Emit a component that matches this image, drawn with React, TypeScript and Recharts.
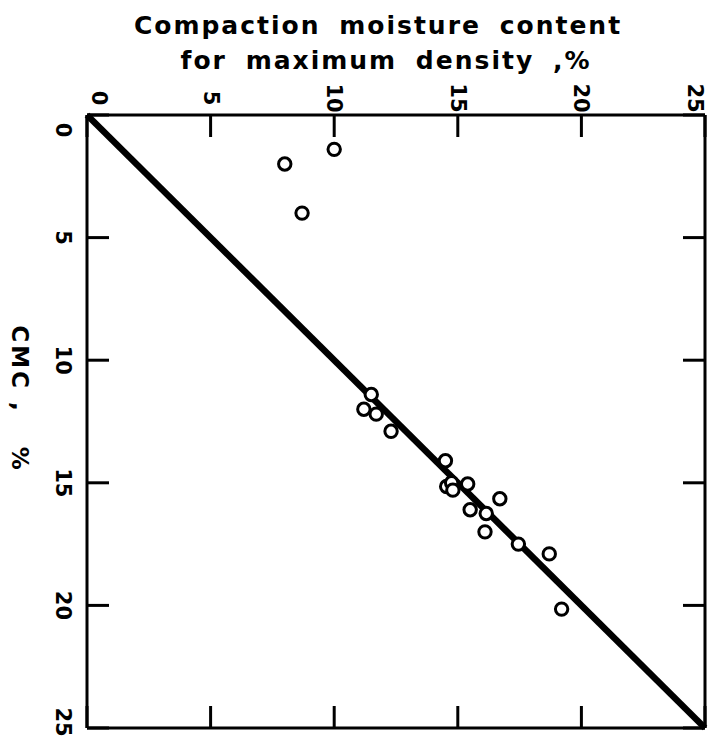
import { ScatterChart, Scatter, XAxis, YAxis } from "recharts";

// compaction moisture content for max density (%) vs CMC (%)
const moistureMaxDensity = [10.0, 8.0, 8.7, 11.5, 11.2, 11.7, 12.3, 14.5, 14.55, 14.75, 14.8, 15.4, 16.7, 15.5, 16.15, 16.1, 17.45, 18.7, 19.2];
const cmcValues = [1.4, 2.0, 4.0, 11.4, 12.0, 12.2, 12.9, 14.1, 15.15, 15.0, 15.3, 15.05, 15.65, 16.1, 16.25, 17.0, 17.5, 17.9, 20.15];
const lineX = [0, 25];
const lineY = [0, 25];
const axisTicks = [0, 5, 10, 15, 20, 25];

const points = moistureMaxDensity.map((x, i) => ({ x, y: cmcValues[i] }));
const fitLine = lineX.map((x, i) => ({ x, y: lineY[i] }));

const FONT = "'DejaVu Sans', sans-serif";

const TopTick = (props: any) => {
  const { x, y, payload } = props;
  let dx = 0;
  if (payload.value === 0) dx = 12;
  if (payload.value === 25) dx = -10;
  const cx = x + dx;
  return (
    <text
      x={cx}
      y={y}
      transform={`rotate(90, ${cx}, ${y})`}
      textAnchor="middle"
      dominantBaseline="central"
      fontFamily={FONT}
      fontWeight="bold"
      fontSize={21}
      fill="#000"
    >
      {payload.value}
    </text>
  );
};

const LeftTick = (props: any) => {
  const { x, y, payload } = props;
  let dy = 0;
  if (payload.value === 0) dy = 15;
  if (payload.value === 25) dy = -6;
  const cy = y + dy;
  return (
    <text
      x={x}
      y={cy}
      transform={`rotate(90, ${x}, ${cy})`}
      textAnchor="middle"
      dominantBaseline="central"
      fontFamily={FONT}
      fontWeight="bold"
      fontSize={21}
      fill="#000"
    >
      {payload.value}
    </text>
  );
};

const NoLabel = () => <g />;

const Ring = (props: any) => (
  <circle cx={props.cx} cy={props.cy} r={6.2} fill="#fff" stroke="#000" strokeWidth={3} />
);

const frame = { stroke: "#000", strokeWidth: 3 };

const titleStyle = {
  position: "absolute" as const,
  left: 0,
  textAlign: "center" as const,
  fontFamily: FONT,
  fontWeight: "bold",
  fontSize: 25,
  letterSpacing: 2,
  wordSpacing: 8,
  lineHeight: "34px",
  whiteSpace: "nowrap" as const,
};

export default function App() {
  return (
    <div style={{ position: "absolute", left: 0, top: 0, width: 714, height: 743, background: "#fff" }}>
      <div style={{ ...titleStyle, top: 9, width: 756 }}>Compaction moisture content</div>
      <div style={{ ...titleStyle, top: 44, width: 772 }}>for maximum density ,%</div>
      <div
        style={{
          position: "absolute",
          left: 20,
          top: 399,
          transform: "translate(-50%, -50%) rotate(90deg)",
          fontFamily: FONT,
          fontWeight: "bold",
          fontSize: 23,
          letterSpacing: 3,
          whiteSpace: "pre",
          lineHeight: "26px",
        }}
      >
        {"CMC ,   %"}
      </div>
      <ScatterChart width={714} height={743} margin={{ top: 0, right: 9, bottom: 15, left: 0 }}>
        <XAxis
          xAxisId="top"
          orientation="top"
          type="number"
          dataKey="x"
          domain={[0, 25]}
          ticks={axisTicks}
          height={115}
          tickSize={0}
          tickMargin={17}
          tickLine={false}
          axisLine={false}
          tick={<TopTick />}
        />
        <XAxis
          xAxisId="topIn"
          orientation="top"
          type="number"
          dataKey="x"
          domain={[0, 25]}
          ticks={axisTicks}
          mirror
          tickSize={22}
          tickLine={frame}
          axisLine={frame}
          tick={NoLabel}
        />
        <XAxis
          xAxisId="bottomIn"
          orientation="bottom"
          type="number"
          dataKey="x"
          domain={[0, 25]}
          ticks={axisTicks}
          mirror
          tickSize={22}
          tickLine={frame}
          axisLine={frame}
          tick={NoLabel}
        />
        <YAxis
          yAxisId="left"
          orientation="left"
          type="number"
          dataKey="y"
          domain={[0, 25]}
          reversed
          ticks={axisTicks}
          width={87}
          tickSize={0}
          tickMargin={24}
          tickLine={false}
          axisLine={false}
          tick={<LeftTick />}
        />
        <YAxis
          yAxisId="leftIn"
          orientation="left"
          type="number"
          dataKey="y"
          domain={[0, 25]}
          reversed
          ticks={axisTicks}
          mirror
          tickSize={22}
          tickLine={frame}
          axisLine={frame}
          tick={NoLabel}
        />
        <YAxis
          yAxisId="rightIn"
          orientation="right"
          type="number"
          dataKey="y"
          domain={[0, 25]}
          reversed
          ticks={axisTicks}
          mirror
          tickSize={22}
          tickLine={frame}
          axisLine={frame}
          tick={NoLabel}
        />
        {/* invisible series so the frame axes get their scales and ticks */}
        <Scatter xAxisId="topIn" yAxisId="leftIn" data={fitLine} shape={NoLabel} isAnimationActive={false} />
        <Scatter xAxisId="bottomIn" yAxisId="rightIn" data={fitLine} shape={NoLabel} isAnimationActive={false} />
        <Scatter
          xAxisId="top"
          yAxisId="left"
          data={fitLine}
          line={{ stroke: "#000", strokeWidth: 6.5 }}
          shape={NoLabel}
          isAnimationActive={false}
        />
        <Scatter
          xAxisId="top"
          yAxisId="left"
          data={points}
          shape={Ring}
          isAnimationActive={false}
        />
      </ScatterChart>
    </div>
  );
}
